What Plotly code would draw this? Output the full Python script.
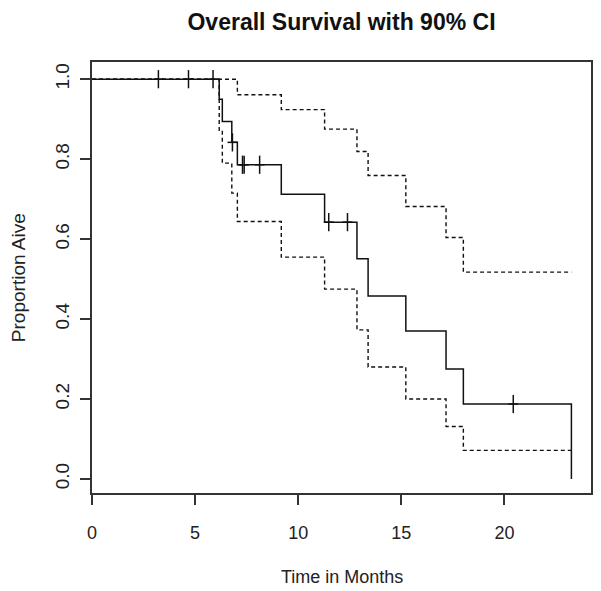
import plotly.graph_objects as go
import numpy as np

# Kaplan-Meier estimate (event times in months)
km_time = [0, 6.17, 6.32, 6.78, 7.05, 9.18, 11.28, 12.85, 13.39, 15.22, 17.17, 18.01, 23.25]
km_surv = [1.0, 0.95, 0.894, 0.842, 0.786, 0.7125, 0.6425, 0.551, 0.458, 0.37, 0.275, 0.1875, 0.0]

# 90% confidence limits (step values at the same times; last value = end of the line)
ci_upper = [1.0, 1.0, 1.0, 1.0, 0.961, 0.924, 0.875, 0.819, 0.759, 0.6815, 0.604, 0.5175, 0.5175]
ci_lower = [1.0, 0.869, 0.79, 0.715, 0.644, 0.555, 0.475, 0.373, 0.28, 0.2, 0.1315, 0.0715, 0.0715]

# Censoring times
censor_time = [3.22, 4.68, 5.87, 6.81, 7.30, 7.38, 8.13, 11.48, 12.39, 20.43]

x_ticks = [0, 5, 10, 15, 20]
y_ticks = [0.0, 0.2, 0.4, 0.6, 0.8, 1.0]
y_tick_text = ["0.0", "0.2", "0.4", "0.6", "0.8", "1.0"]

title_text = "Overall Survival with 90% CI"
x_title = "Time in Months"
y_title = "Proportion Aive"

# survival level at each censoring time (step function lookup)
kt = np.array(km_time)
ks = np.array(km_surv)
censor_surv = [float(ks[np.searchsorted(kt, t, side="right") - 1]) for t in censor_time]

FONT = "Liberation Sans, Arial, sans-serif"
INK = "#111111"

# the page body has an 8px margin, so the figure is 8px smaller than the window
W, H = 593, 583

fig = go.Figure()
for ci in (ci_upper, ci_lower):
    fig.add_trace(go.Scatter(x=km_time, y=ci, mode="lines", line_shape="hv",
                             line=dict(color=INK, width=1.4, dash="4px,3px"),
                             hoverinfo="skip", showlegend=False))
fig.add_trace(go.Scatter(x=km_time, y=km_surv, mode="lines", line_shape="hv",
                         line=dict(color=INK, width=1.5), showlegend=False))
fig.add_trace(go.Scatter(x=censor_time, y=censor_surv, mode="markers",
                         marker=dict(symbol="line-ns", size=13,
                                     line=dict(color=INK, width=1.5)),
                         showlegend=False))
fig.add_trace(go.Scatter(x=censor_time, y=censor_surv, mode="markers",
                         marker=dict(symbol="line-ew", size=7,
                                     line=dict(color=INK, width=1.5)),
                         showlegend=False))

axis_common = dict(showgrid=False, zeroline=False, showline=True, mirror=True,
                   linecolor="#333333", linewidth=1.5, ticks="outside",
                   ticklen=10, tickwidth=1.5, tickcolor="#333333")

fig.update_layout(
    width=W, height=H,
    margin=dict(l=84, r=8, t=54, b=98),
    paper_bgcolor="white", plot_bgcolor="white",
    title=dict(text=title_text, x=0.5, xref="paper", xanchor="center",
               y=1 - 14 / H, yref="container", yanchor="middle",
               font=dict(family=FONT, size=23, color="#111111", weight="bold")),
    xaxis=dict(range=[0, 24.2], tickvals=x_ticks, ticklabelstandoff=13,
               tickfont=dict(family=FONT, size=18, color="#222222"), **axis_common),
    yaxis=dict(range=[-0.035, 1.043], tickvals=y_ticks, ticktext=y_tick_text,
               tickangle=-90, ticklabelstandoff=4,
               tickfont=dict(family=FONT, size=19, color="#222222"), **axis_common),
    annotations=[
        dict(text=x_title, xref="paper", yref="paper", x=0.5, y=-0.194,
             xanchor="center", yanchor="middle", showarrow=False,
             font=dict(family=FONT, size=18, color="#222222")),
        dict(text=y_title, xref="paper", yref="paper", x=-0.147, y=0.5,
             xanchor="center", yanchor="middle", showarrow=False, textangle=-90,
             font=dict(family=FONT, size=19, color="#222222")),
    ],
)

fig.write_html("out.html")
